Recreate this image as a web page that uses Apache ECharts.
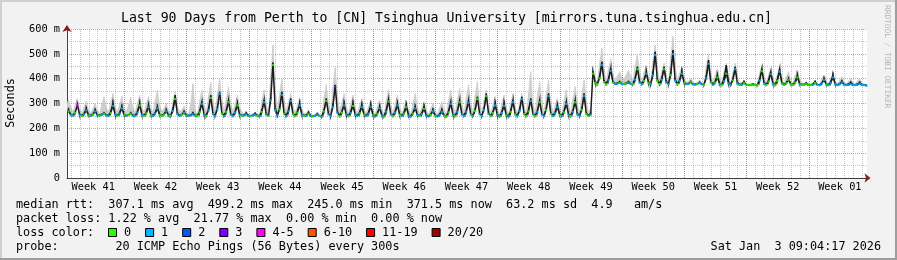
<!DOCTYPE html>
<html><head><meta charset="utf-8">
<script src="https://cdn.jsdelivr.net/npm/echarts@6/dist/echarts.min.js"></script>
<style>html,body{margin:0;padding:0;background:#f2f2f2}#c{width:897px;height:260px}</style>
</head><body><div id="c"></div>
<script>
// ---- data (ms), 4 samples per day, first sample at day -0.08, step 0.25 day ----
const T0 = -0.08, STEP = 0.25;
const weekLabels = ['Week 41','Week 42','Week 43','Week 44','Week 45','Week 46','Week 47','Week 48','Week 49','Week 50','Week 51','Week 52','Week 01'];
const yTicks = [0,100,200,300,400,500,600];
const median = [
256,268,254,252, 262,292,254,250, 256,272,252,250, 255,268,252,251, 254,258,252,251,
262,290,254,250, 259,280,253,250, 253,258,251,250, 263,292,254,250, 260,285,254,250,
259,280,253,250, 255,268,252,250, 270,318,257,250, 254,262,251,250, 252,256,251,250,
264,298,255,250, 272,322,257,250, 277,340,259,250, 266,305,255,250, 263,292,254,250,
252,256,250,249, 252,255,250,249, 266,305,255,250, 313,455,272,252, 276,335,259,250,
268,310,256,250, 263,292,254,250, 251,258,249,248, 250,254,249,248, 268,310,256,250,
285,368,262,250, 263,292,254,250, 262,290,254,250, 260,285,254,250, 259,286,252,248,
258,280,251,248, 267,308,256,250, 263,292,254,250, 259,285,252,248, 259,280,253,250,
257,278,251,248, 254,268,250,248, 253,266,250,248, 264,298,255,250, 266,305,255,250,
266,304,255,250, 270,318,257,250, 274,330,258,250, 261,292,252,248, 261,290,252,248,
266,305,255,250, 270,318,257,250, 268,310,256,250, 266,305,255,250, 274,330,258,250,
260,285,254,250, 264,298,255,250, 266,305,255,250, 274,330,258,250, 255,420,382,378,
401,455,386,378, 394,432,383,378, 380,383,379,378, 380,383,379,378, 396,438,384,378,
391,420,382,378, 413,495,390,378, 396,438,384,378, 414,499,390,378, 391,420,382,378,
379,385,377,376, 378,382,377,376, 401,460,384,376, 384,405,378,375, 389,420,380,375,
393,438,380,374, 376,382,375,374, 374,375,374,374, 392,430,380,375, 388,418,379,375,
391,428,380,375, 381,395,377,375, 384,405,378,375, 375,378,374,374, 376,382,375,374,
380,395,376,374, 383,405,377,374, 377,385,375,374, 375,378,374,374, 376,380,374,374,
372];
const darkSmoke = [
260,275,256,254, 265,294,257,252, 260,280,254,252, 258,274,254,253, 256,262,254,253,
268,300,257,252, 263,287,256,252, 254,262,253,252, 268,300,258,252, 265,294,257,252,
263,287,256,252, 258,274,254,252, 279,334,262,252, 256,267,253,252, 254,262,253,252,
270,307,258,252, 279,334,262,252, 284,347,264,252, 272,314,260,252, 268,300,257,252,
254,262,252,251, 253,260,252,251, 272,314,260,252, 327,465,284,254, 284,347,264,252,
275,320,260,252, 268,300,257,252, 254,265,251,250, 251,258,250,250, 275,320,260,252,
294,375,269,252, 268,300,257,252, 268,300,257,252, 265,294,257,252, 264,294,255,250,
262,287,254,250, 274,318,260,252, 268,300,257,252, 264,294,255,250, 263,287,256,252,
262,287,254,250, 257,274,252,250, 257,274,252,250, 270,307,258,252, 272,314,260,252,
272,314,260,252, 277,327,262,252, 281,340,263,252, 266,300,256,250, 266,300,256,250,
272,314,260,252, 277,327,262,252, 275,320,260,252, 272,314,260,252, 281,340,263,252,
265,294,257,252, 270,307,258,252, 272,314,260,252, 281,340,263,252, 262,430,388,380,
410,468,392,380, 400,442,388,380, 382,388,380,380, 382,388,380,380, 403,448,389,380,
396,428,386,380, 424,508,398,380, 403,448,389,380, 426,515,399,380, 396,428,386,380,
380,388,378,378, 379,385,378,378, 411,475,391,378, 389,415,381,377, 403,455,387,377,
400,448,385,376, 379,388,376,376, 376,378,376,376, 398,440,385,377, 394,428,383,377,
398,440,385,377, 384,400,379,377, 389,415,381,377, 377,382,376,376, 379,388,376,376,
383,400,378,376, 388,415,380,376, 380,390,377,376, 378,385,376,376, 378,385,376,376,
374];
const lightSmoke = [
290,315,285,268, 292,320,278,264, 286,310,274,262, 280,300,270,262, 297,327,282,266,
304,340,286,268, 298,330,282,266, 295,325,280,265, 300,334,284,267, 297,328,281,266,
313,355,292,270, 280,300,270,262, 309,348,289,268, 274,290,266,258, 300,380,270,258,
313,355,292,268, 331,385,304,272, 340,400,310,274, 321,368,297,270, 300,334,284,264,
260,268,257,254, 259,265,256,254, 313,355,292,266, 422,535,365,280, 340,400,310,272,
304,340,286,264, 292,320,278,260, 261,270,257,253, 258,265,255,252, 325,375,300,266,
367,445,328,274, 304,340,286,262, 300,334,284,262, 292,320,278,260, 288,314,274,258,
288,314,274,258, 313,355,292,264, 300,334,284,262, 288,314,274,258, 304,340,286,262,
283,307,272,258, 279,300,269,256, 283,307,272,258, 313,355,292,264, 317,361,294,265,
325,375,300,266, 333,388,305,268, 313,355,292,264, 296,328,280,258, 300,334,282,258,
304,340,286,262, 304,340,286,262, 340,428,300,266, 333,388,305,266, 337,395,308,268,
292,320,278,260, 313,355,292,264, 321,368,297,266, 337,395,308,268, 280,445,398,388,
464,522,436,392, 440,480,418,390, 410,428,405,400, 415,435,410,395, 451,500,427,392,
425,455,409,388, 473,536,441,394, 428,462,412,388, 493,570,455,398, 422,450,407,386,
390,400,386,382, 387,395,384,380, 450,500,426,386, 414,440,401,384, 427,462,410,386,
427,462,409,384, 384,390,380,378, 378,380,377,377, 423,455,407,384, 415,442,402,382,
420,450,405,382, 407,428,396,382, 411,435,399,382, 383,388,380,378, 384,390,380,378,
399,415,390,380, 402,420,392,380, 394,408,388,380, 390,400,384,378, 390,400,384,378,
376];
// lost pings (of 20) per sample
const lossCodes =
"1011 0410 1101 0110 1011 " + "0110 1101 0011 1010 0101 " + "1100 0110 1011 0101 1110 " +
"0110 1011 1101 0011 1010 " + "1110 1101 0110 1011 0101 " + "1100 0110 1010 1101 0011 " +
"1310 0110 1011 0101 1101 " + "0110 1010 1101 0011 0110 " + "1011 0101 1100 0110 1011 " +
"1101 0011 1010 0110 1101 " + "0101 1100 0110 1011 0101 " + "1101 0110 1011 0100 1000 " +
"0100 1101 1010 0110 1011 " + "0101 1100 1011 0110 1101 " + "1011 0110 1101 0010 1011 " +
"0110 1000 0000 1010 0110 " + "0100 0000 0010 0000 1011 " + "1101 1111 1111 1111 1111 " + "1";
const lossLabels = ['0','1','2','3','4-5','6-10','11-19','20/20'];
const lossColors = ['#26ff00','#00b8ff','#0059ff','#7e00ff','#ff00ff','#ff5500','#ff0000','#a10000'];
const legendLines = [
  'median rtt:  307.1 ms avg  499.2 ms max  245.0 ms min  371.5 ms now  63.2 ms sd  4.9   am/s',
  'packet loss: 1.22 % avg  21.77 % max  0.00 % min  0.00 % now',
  'loss color:',
  'probe:        20 ICMP Echo Pings (56 Bytes) every 300s'
];
const titleText = 'Last 90 Days from Perth to [CN] Tsinghua University [mirrors.tuna.tsinghua.edu.cn]';
const dateText = 'Sat Jan  3 09:04:17 2026';

// ---- layout / style ----
const MONO = '"DejaVu Sans Mono", monospace';
const FIRST_WEEK_LINE = 6.446; // days from left edge of plot
const N = median.length;
const times = [];
for (let i = 0; i < N; i++) times.push(+(T0 + i * STEP).toFixed(3));
const loss = lossCodes.replace(/\s+/g, '').split('').map(Number);
function lossIdx(n){ return n <= 3 ? n : n <= 5 ? 4 : n <= 10 ? 5 : n < 20 ? 6 : 7; }

const minorX = [], majorX = [], weekMid = [];
for (let v = FIRST_WEEK_LINE - 6; v < 90; v += 1) minorX.push(+v.toFixed(3));
for (let v = FIRST_WEEK_LINE; v < 90; v += 7) majorX.push(+v.toFixed(3));
for (let k = 0; k < weekLabels.length; k++) weekMid.push(+(FIRST_WEEK_LINE - 3.5 + 7 * k).toFixed(3));

const minorStyle = {color:'rgba(143,143,143,0.55)', type:[1,1], width:1};
const majorStyle = {color:'rgba(222,79,79,0.6)', type:[1,1], width:1};

// band between median and a smoke top, drawn segment by segment through the axes
function bandSeries(top, color, z, lw){
  return {
    type:'custom', silent:true, z:z, clip:true,
    data: times.map((t,i)=>[t, median[i], top[i]]),
    encode:{x:0, y:[1,2]},
    renderItem:(params, api) => {
      const i = params.dataIndex;
      if (i >= N - 1) return null;
      const pts = [
        api.coord([times[i], median[i]]), api.coord([times[i+1], median[i+1]]),
        api.coord([times[i+1], top[i+1]]), api.coord([times[i], top[i]])
      ];
      return {type:'polygon', shape:{points:pts}, style:{fill:color, stroke:color, lineWidth:lw}};
    }
  };
}

const chart = echarts.init(document.getElementById('c'), null, {renderer:'canvas'});

const graphics = [
  {type:'rect', shape:{x:0,y:0,width:897,height:2}, style:{fill:'#cfcfcf'}},
  {type:'rect', shape:{x:0,y:0,width:2,height:260}, style:{fill:'#cfcfcf'}},
  {type:'rect', shape:{x:895,y:0,width:2,height:260}, style:{fill:'#9e9e9e'}},
  {type:'rect', shape:{x:0,y:258,width:897,height:2}, style:{fill:'#9e9e9e'}},
  {type:'text', x:446.5, y:19, style:{text:titleText, fill:'#000', font:'13.2px ' + MONO, align:'center', verticalAlign:'middle'}},
  {type:'text', x:10.5, y:103, rotation:Math.PI/2, style:{text:'Seconds', fill:'#000', font:'11.8px ' + MONO, align:'center', verticalAlign:'middle'}},
  {type:'text', x:887, y:5, rotation:-Math.PI/2, style:{text:'RRDTOOL / TOBI OETIKER', fill:'#b4b4b4', font:'7.8px ' + MONO, align:'left', verticalAlign:'middle'}},
  {type:'text', x:881, y:246.5, style:{text:dateText, fill:'#000', font:'11.8px ' + MONO, align:'right', verticalAlign:'middle'}}
];
const rowY = [204.5, 218.5, 232.5, 246.5];
legendLines.forEach((s, i) => graphics.push({type:'text', x:16, y:rowY[i], style:{text:s, fill:'#000', font:'11.8px ' + MONO, align:'left', verticalAlign:'middle'}}));
let bx = 108;
lossLabels.forEach((lab, i) => {
  graphics.push({type:'rect', shape:{x:bx+0.5, y:rowY[2]-4, width:8, height:8}, style:{fill:lossColors[i], stroke:'#000', lineWidth:1}});
  graphics.push({type:'text', x:bx+16, y:rowY[2], style:{text:lab, fill:'#000', font:'11.8px ' + MONO, align:'left', verticalAlign:'middle'}});
  bx += lab.length * 7.1 + 30;
});

const option = {
  animation:false,
  backgroundColor:'#f2f2f2',
  grid:{left:67, right:30, top:29, bottom:82, show:true, backgroundColor:'#ffffff', borderWidth:0},
  xAxis:[{
    type:'value', min:0, max:90,
    axisLine:{show:true, lineStyle:{color:'#404040', width:1}},
    axisTick:{show:false, customValues:weekMid},
    splitLine:{show:false},
    axisLabel:{show:true, customValues:weekMid, margin:4, color:'#000', fontFamily:MONO, fontSize:10.3,
      formatter:v => weekLabels[Math.round((v - weekMid[0]) / 7)] || ''}
  },{
    type:'value', min:0, max:90, position:'bottom',
    axisLine:{show:true, symbol:['none','arrow'], symbolSize:[7,6], symbolOffset:[0,3.5], lineStyle:{color:'#801f1f', width:0}},
    axisTick:{show:false}, axisLabel:{show:false}, splitLine:{show:false}
  }],
  yAxis:[{
    type:'value', min:yTicks[0], max:yTicks[yTicks.length-1], interval:100,
    axisLine:{show:true, lineStyle:{color:'#404040', width:1}},
    axisTick:{show:false},
    minorTick:{show:false, splitNumber:2},
    splitLine:{show:true, lineStyle:majorStyle},
    minorSplitLine:{show:true, lineStyle:minorStyle},
    axisLabel:{margin:7, color:'#000', fontFamily:MONO, fontSize:10.3, formatter:v => v === 0 ? '0' : v + ' m'}
  },{
    type:'value', min:yTicks[0], max:yTicks[yTicks.length-1], position:'left',
    axisLine:{show:true, symbol:['none','arrow'], symbolSize:[7,7], symbolOffset:[0,4], lineStyle:{color:'#801f1f', width:0}},
    axisTick:{show:false}, axisLabel:{show:false}, splitLine:{show:false}
  }],
  series:[
    {type:'line', data:[[0,0]], symbol:'none', lineStyle:{opacity:0}, silent:true, z:1,
      markLine:{silent:true, symbol:'none', label:{show:false}, animation:false,
        data: minorX.map(v => ({xAxis:v, lineStyle:minorStyle})).concat(majorX.map(v => ({xAxis:v, lineStyle:majorStyle})))}},
    bandSeries(lightSmoke, '#cdcdcd', 2, 0.6),
    bandSeries(darkSmoke, '#1c1c1c', 3, 1.3),
    {type:'scatter', data:times.map((t,i)=>[t, median[i], loss[i]]), symbol:'rect', symbolSize:[2.4,2.2], silent:true, z:4,
      itemStyle:{color:p => lossColors[lossIdx(p.data[2])]}}
  ],
  graphic:{elements:graphics}
};
chart.setOption(option);
</script>
</body></html>
